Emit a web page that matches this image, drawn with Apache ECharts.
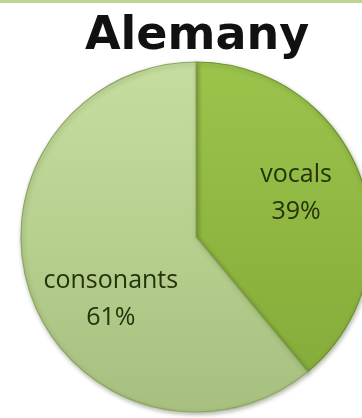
<!DOCTYPE html>
<html>
<head>
<meta charset="utf-8">
<style>
  html, body { margin: 0; padding: 0; background: #ffffff; }
  #chart { width: 362px; height: 418px; }
</style>
<script src="https://cdn.jsdelivr.net/npm/echarts@6/dist/echarts.min.js"></script>
</head>
<body>
<div id="chart"></div>
<script>
// Share of letters in German: vowels vs consonants
const chartTitle = 'Alemany';
const categories = ['vocals', 'consonants'];
const shares = [39, 61];

const CX = 196, CY = 237, R = 175;

// vertical shading for each slice, in page coordinates
function shade(top, mid, bottom) {
  return {
    type: 'linear', global: true,
    x: 0, y: CY - R, x2: 0, y2: CY + R,
    colorStops: [
      { offset: 0, color: top },
      { offset: 0.5, color: mid },
      { offset: 1, color: bottom }
    ]
  };
}
const sliceFills = [
  shade('#9cc34c', '#8fb640', '#84a939'),
  shade('#c6dda0', '#b7d08e', '#a7bf7f')
];
const sliceBorders = ['#6f9130', '#8ea566'];
// nudges for the two label blocks
const labelShift = [[15, -13], [0, 32]];

const chart = echarts.init(document.getElementById('chart'), null, { renderer: 'canvas' });

chart.setOption({
  backgroundColor: '#ffffff',
  animation: false,
  title: {
    text: chartTitle,
    left: 80,
    top: 9,
    textStyle: {
      fontFamily: 'DejaVu Sans',
      fontWeight: 'bold',
      fontSize: 46,
      color: '#111111'
    }
  },
  graphic: [{
    type: 'rect',
    left: 0, top: 0,
    shape: { width: 362, height: 3 },
    style: { fill: '#bcd58f' },
    silent: true
  }],
  series: [{
    type: 'pie',
    center: [CX, CY],
    radius: [0, R],
    startAngle: 90,
    clockwise: true,
    avoidLabelOverlap: false,
    label: {
      show: true,
      position: 'inside',
      formatter: '{b}\n{d}%',
      fontFamily: 'Open Sans',
      fontSize: 25,
      lineHeight: 37,
      color: '#24330c'
    },
    labelLine: { show: false },
    labelLayout: function (p) {
      const s = labelShift[p.dataIndex];
      return { dx: s[0], dy: s[1] };
    },
    emphasis: { disabled: true },
    data: categories.map(function (name, i) {
      return {
        name: name,
        value: shares[i],
        itemStyle: {
          color: sliceFills[i],
          borderColor: sliceBorders[i],
          borderWidth: 1.2,
          shadowBlur: 4,
          shadowColor: 'rgba(40,60,10,0.35)',
          shadowOffsetX: 1,
          shadowOffsetY: 2
        }
      };
    })
  }]
});
</script>
</body>
</html>
